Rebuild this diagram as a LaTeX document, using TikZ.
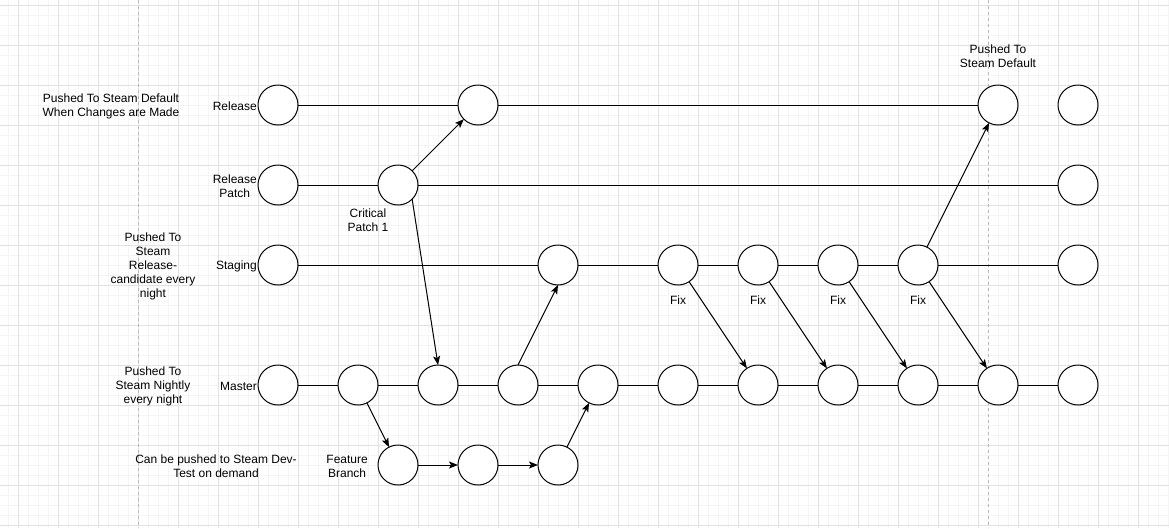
\documentclass[tikz,border=0pt]{standalone}
\usepackage{fontspec}
\setmainfont{Liberation Sans}
\usetikzlibrary{positioning,arrows.meta}
\definecolor{gridminor}{RGB}{245,245,245}
\definecolor{gridmajor}{RGB}{226,226,226}
\definecolor{pagedash}{RGB}{185,185,185}

\begin{document}
\begin{tikzpicture}[x=1pt, y=-1pt, node distance=40pt,
	commit/.style={draw, circle, fill=white, line width=1pt, minimum size=40pt, inner sep=0pt, outer sep=0pt},
	lbl/.style={font=\fontsize{12}{14}\selectfont, align=center, inner sep=1pt, yshift=-1pt},
	note/.style={font=\fontsize{12}{14}\selectfont, align=center, inner sep=0pt, yshift=-1.5pt},
	branch/.style={line width=1pt},
	arr/.style={line width=1pt, -{Stealth[length=9pt, width=7pt, inset=2pt]}}]
					\fill[white] (0,0) rectangle (1169,528);
					\useasboundingbox (0,0) rectangle (1169,528);
					\foreach \x in {8,18,...,1168} \draw[gridminor, line width=0.8pt] (\x,0) -- (\x,528);
					\foreach \y in {5,15,...,525} \draw[gridminor, line width=0.8pt] (0,\y) -- (1169,\y);
					\foreach \x in {18,58,...,1138} \draw[gridmajor, line width=0.8pt] (\x,0) -- (\x,528);
					\foreach \y in {5,45,...,525} \draw[gridmajor, line width=0.8pt] (0,\y) -- (1169,\y);
					\draw[pagedash, line width=0.8pt, dash pattern=on 3pt off 3pt] (138,0) -- (138,528);
					\draw[pagedash, line width=0.8pt, dash pattern=on 3pt off 3pt] (988,0) -- (988,528);
					
					\node[commit] (m1) at (278,385) {};
					\node[commit, right=of m1] (m2) {};
					\node[commit, right=of m2] (m3) {};
					\node[commit, right=of m3] (m4) {};
					\node[commit, right=of m4] (m5) {};
					\node[commit, right=of m5] (m6) {};
					\node[commit, right=of m6] (m7) {};
					\node[commit, right=of m7] (m8) {};
					\node[commit, right=of m8] (m9) {};
					\node[commit, right=of m9] (m10) {};
					\node[commit, right=of m10] (m11) {};
					
					\node[commit, above=80pt of m1] (s1) {};
					\node[commit, above=80pt of m4, xshift=40pt] (s2) {};
					\node[commit, above=80pt of m6] (s3) {};
					\node[commit, above=80pt of m7] (s4) {};
					\node[commit, above=80pt of m8] (s5) {};
					\node[commit, above=80pt of m9] (s6) {};
					\node[commit, above=80pt of m11] (s7) {};
					
					\node[commit, above=of s1] (p1) {};
					\node[commit, right=80pt of p1] (p2) {};
					\node[commit, above=of s7] (p3) {};
					
					\node[commit, above=of p1] (r1) {};
					\node[commit, right=160pt of r1] (r2) {};
					\node[commit, above=of p3, xshift=-80pt] (r3) {};
					\node[commit, above=of p3] (r4) {};
					
					\node[commit, below=of m2, xshift=40pt] (f1) {};
					\node[commit, right=of f1] (f2) {};
					\node[commit, right=of f2] (f3) {};
					
					\draw[branch] (r1) -- (r2) -- (r3);
					\draw[branch] (p1) -- (p2) -- (p3);
					\draw[branch] (s1) -- (s2) -- (s3) -- (s4) -- (s5) -- (s6) -- (s7);
					\draw[branch] (m1) -- (m2) -- (m3) -- (m4) -- (m5) -- (m6) -- (m7) -- (m8) -- (m9) -- (m10) -- (m11);
					
					\draw[arr] (p2.north east) -- (r2.south west);
					\draw[arr] (p2.south east) -- (m3.north);
					\draw[arr] (m4.north) -- (s2.south);
					\draw[arr] (s3) -- (m7);
					\draw[arr] (s4) -- (m8);
					\draw[arr] (s5) -- (m9);
					\draw[arr] (s6) -- (m10);
					\draw[arr] (s6) -- (r3);
					\draw[arr] (m2) -- (f1);
					\draw[arr] (f1) -- (f2);
					\draw[arr] (f2) -- (f3);
					\draw[arr] (f3) -- (m5);
					
					\node[lbl, left=0pt of r1] (lrelease) {Release};
					\node[lbl, left=0pt of p1] (lpatch) {Release\\Patch};
					\node[lbl, left=0pt of s1] (lstaging) {Staging};
					\node[lbl, left=0pt of m1] (lmaster) {Master};
					\node[lbl, left=9pt of f1] (lfeature) {Feature\\Branch};
					\node[lbl, below=2pt of p2, xshift=-30pt] (lcritical) {Critical\\Patch 1};
					\node[lbl, below=9pt of s3] (lfix1) {Fix};
					\node[lbl, below=9pt of s4] (lfix2) {Fix};
					\node[lbl, below=9pt of s5] (lfix3) {Fix};
					\node[lbl, below=9pt of s6] (lfix4) {Fix};
					\node[lbl, above=17pt of r3] (ldefault) {Pushed To\\Steam Default};
					
					\node[note] (nrelease) at (111,105) {Pushed To Steam Default\\When Changes are Made};
					\node[note] (nstaging) at (153,265) {Pushed To\\Steam\\Release-\\candidate every\\night};
					\node[note] (nmaster) at (153,385) {Pushed To\\Steam Nightly\\every night};
					\node[note] (nfeature) at (216,465) {Can be pushed to Steam Dev-\\Test on demand};
				\end{tikzpicture}
\end{document}
